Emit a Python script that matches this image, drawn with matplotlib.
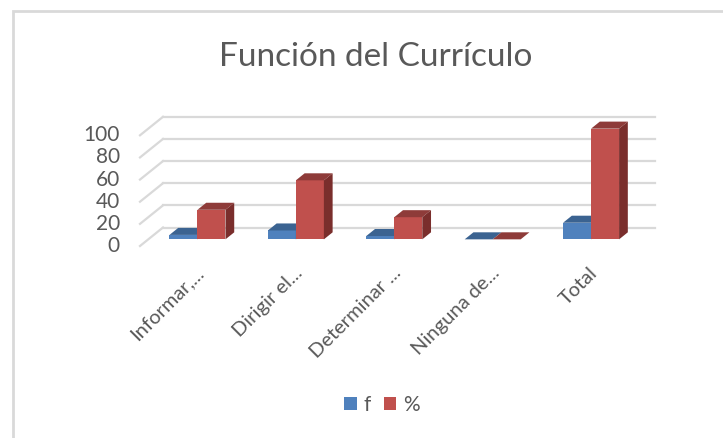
import matplotlib
matplotlib.use('Agg')
import matplotlib.pyplot as plt
from matplotlib.patches import Polygon, Patch, Rectangle

plt.rcParams['font.family'] = ['Lato', 'DejaVu Sans']

# Data
categories = ['Informar,...', 'Dirigir el...', 'Determinar ...', 'Ninguna de...', 'Total']
freq = [4, 8, 3, 0, 15]
pct = [26.7, 53.3, 20, 0, 100]
series_names = ['f', '%']
y_ticks = [0, 20, 40, 60, 80, 100]

W, H = 723, 438
# pixel geometry of the plot area (front-left corner of floor)
X0_PX, CAT_PX = 140, 98.4
Y0_PX, VAL_PX = 246, 1.107
DEPTH_PX = (23, 18.5)

DX = DEPTH_PX[0] / CAT_PX
DY = DEPTH_PX[1] / VAL_PX
D_FRONT, D_BACK = 0.36, 0.74
BAR_W = 28 / CAT_PX

face = {'f': ('#4F81BD', '#3B6391', '#355887'),
        '%': ('#C0504D', '#8E3B39', '#7A2E2C')}
grey_text = '#595959'
grid_col = '#D9D9D9'

fig = plt.figure(figsize=(W / 100, H / 100), dpi=100)
ax = fig.add_axes([0, 0, 1, 1])
ax.set_xlim((0 - X0_PX) / CAT_PX - 0.5, (W - X0_PX) / CAT_PX - 0.5)
ax.set_ylim((Y0_PX - H) / VAL_PX, Y0_PX / VAL_PX)
ax.axis('off')

# outer chart frame
fig.add_artist(Rectangle((13 / W, -0.05), 1.0, 1 - 11 / H + 0.05,
                         transform=fig.transFigure, fill=False,
                         edgecolor=grid_col, linewidth=2))

# gridlines: side wall diagonals + back wall
n = len(categories)
for v in y_ticks:
    ax.plot([-0.5, -0.5 + DX], [v, v + DY], color=grid_col, lw=1.6, zorder=1)
    ax.plot([-0.5 + DX, n - 0.5 + DX], [v + DY, v + DY], color=grid_col, lw=1.6, zorder=1)
    ax.text(-0.5 - 20 / CAT_PX, v, str(v), ha='right', va='center',
            fontsize=15, color=grey_text)

# bars
fx, fy = D_FRONT * DX, D_FRONT * DY
bdx, bdy = (D_BACK - D_FRONT) * DX, (D_BACK - D_FRONT) * DY
for i in range(n):
    for s, vals, off in (('f', freq, -BAR_W), ('%', pct, 0.0)):
        v = vals[i]
        c_front, c_top, c_side = face[s]
        xl = i + off + fx
        xr = xl + BAR_W
        ax.bar(xl, v, width=BAR_W, bottom=fy, align='edge', color=c_front,
               linewidth=0, zorder=2)
        top = v + fy
        ax.add_patch(Polygon([(xl, top), (xr, top), (xr + bdx, top + bdy),
                              (xl + bdx, top + bdy)], closed=True,
                             facecolor=c_top, edgecolor='none', zorder=2))
        ax.add_patch(Polygon([(xr, fy), (xr, top), (xr + bdx, top + bdy),
                              (xr + bdx, fy + bdy)], closed=True,
                             facecolor=c_side, edgecolor='none', zorder=2))

# category labels
for i, lab in enumerate(categories):
    ax.text(i + 6 / CAT_PX, (Y0_PX - 264) / VAL_PX, lab, rotation=45,
            rotation_mode='anchor', ha='right', va='top',
            fontsize=14.5, color=grey_text)

fig.text(376 / W, 1 - 57 / H, 'Función del Currículo', ha='center', va='center',
         fontsize=24, color=grey_text)

handles = [Patch(facecolor=face[s][0], edgecolor='none', label=s) for s in series_names]
fig.legend(handles=handles, loc='center', bbox_to_anchor=(382 / W, 1 - 405 / H),
           ncol=2, frameon=False, fontsize=15, handlelength=0.6, handleheight=0.6,
           handletextpad=0.35, columnspacing=0.6, labelcolor=grey_text)

fig.savefig('out.png', dpi=100)
